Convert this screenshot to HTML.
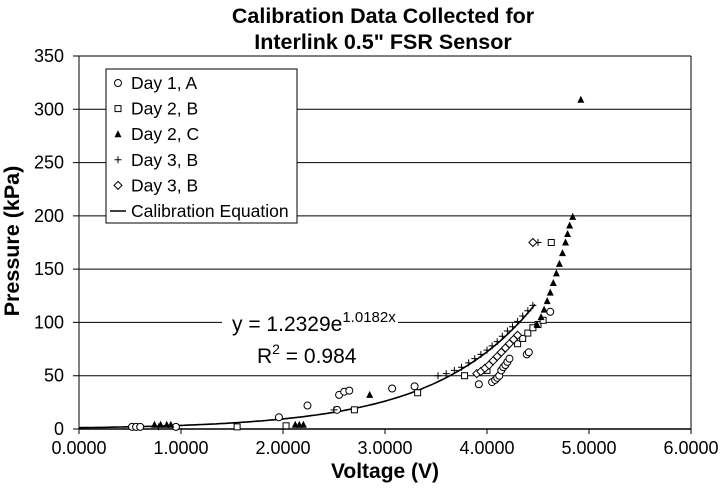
<!DOCTYPE html>
<html><head><meta charset="utf-8"><style>
body{margin:0;background:#fff;}
svg{display:block;font-family:"Liberation Sans",Arial,sans-serif;}
</style></head><body>
<svg id="chart" width="720" height="488" viewBox="0 0 720 488">
<text x="383" y="23" text-anchor="middle" font-size="21.5" font-weight="bold">Calibration Data Collected for</text>
<text x="383" y="49" text-anchor="middle" font-size="21.5" font-weight="bold">Interlink 0.5" FSR Sensor</text>
<text transform="translate(19,241) rotate(-90)" text-anchor="middle" font-size="21.5" font-weight="bold">Pressure (kPa)</text>
<text x="385" y="478" text-anchor="middle" font-size="21" font-weight="bold">Voltage (V)</text>
<g id="grid"></g>
<g id="axes"></g>
<g id="curve"></g>
<g id="marks"></g>
<g>
<rect x="222" y="308" width="176" height="62" fill="#fff"/>
<text x="232" y="331" font-size="21">y = 1.2329e<tspan dy="-9" font-size="15">1.0182x</tspan></text>
<text x="257" y="363" font-size="21">R<tspan dy="-9" font-size="14">2</tspan><tspan dy="9"> = 0.984</tspan></text>
</g>
<g id="legend"></g>
</svg>
<script>
const xTicks=[0,1,2,3,4,5,6];
const yTicks=[0,50,100,150,200,250,300,350];
const coefA=[1.2329];
const coefB=[1.0182];
const curveRange=[0,4.47];
const day1A=[[0.52,2],[0.56,2],[0.60,2],[0.95,2],[1.96,11],[2.24,22],[2.53,18],[2.55,32],[2.60,35],[2.65,36],[3.07,38],[3.29,40],[3.92,42],[4.05,44],[4.08,46],[4.10,48],[4.12,50],[4.14,55],[4.16,58],[4.18,60],[4.20,63],[4.22,66],[4.39,70],[4.41,72],[4.62,110]];
const day2B=[[1.55,2],[2.03,3],[2.70,18],[3.32,34],[3.78,50],[4.00,55],[4.30,80],[4.35,85],[4.40,90],[4.45,95],[4.50,98],[4.55,102],[4.63,175]];
const day2C=[[0.74,4],[0.80,4],[0.86,4],[0.90,4],[2.12,4],[2.16,4],[2.20,4],[2.85,32],[4.49,98],[4.53,105],[4.56,112],[4.59,120],[4.62,128],[4.65,137],[4.68,146],[4.71,155],[4.74,165],[4.77,175],[4.79,183],[4.81,191],[4.84,199],[4.92,309]];
const day3Bplus=[[0.78,2],[2.50,18],[3.52,50],[3.60,52],[3.68,55],[3.75,58],[3.82,62],[3.88,66],[3.94,70],[4.00,74],[4.05,78],[4.10,82],[4.15,87],[4.20,92],[4.25,96],[4.30,101],[4.35,106],[4.40,111],[4.45,116],[4.50,175]];
const day3Bdiamond=[[3.90,52],[3.94,54],[3.98,57],[4.02,60],[4.06,64],[4.10,68],[4.14,72],[4.18,76],[4.22,80],[4.26,84],[4.30,88],[4.45,175]];
const legendLabels=["Day 1, A","Day 2, B","Day 2, C","Day 3, B","Day 3, B","Calibration Equation"];

const X0=79,X1=691,Y0=429,Y1=56;
const sx=v=>X0+(v-0)/(6-0)*(X1-X0);
const sy=v=>Y0-(v-0)/(350-0)*(Y0-Y1);
const NS="http://www.w3.org/2000/svg";
function mk(tag,attrs,parent){const e=document.createElementNS(NS,tag);for(const k in attrs)e.setAttribute(k,attrs[k]);parent.appendChild(e);return e;}
const grid=document.getElementById('grid'),axes=document.getElementById('axes');
yTicks.forEach(t=>{
  const l=mk('line',{x1:X0-6,x2:X1,y1:sy(t),y2:sy(t),stroke:'#000','stroke-width':1},grid);
  
  
  const tx=mk('text',{x:64,y:sy(t)+6,'text-anchor':'end','font-size':18},axes);
  tx.textContent=t;
  
  
});
const la=mk('line',{x1:X0,x2:X0,y1:Y1,y2:Y0,stroke:'#000'},axes);


const ra=mk('line',{x1:X1,x2:X1,y1:Y1,y2:Y0,stroke:'#000'},axes);


const xa=mk('line',{x1:X0,x2:X1,y1:Y0,y2:Y0,stroke:'#000','stroke-width':1.5},axes);


xTicks.forEach(t=>{
  const tk=mk('line',{x1:sx(t),x2:sx(t),y1:Y0,y2:Y0+5,stroke:'#000'},axes);
  
  
  const tx=mk('text',{x:sx(t),y:Y0+25,'text-anchor':'middle','font-size':18},axes);
  tx.textContent=t.toFixed(4);
  
  
});
let d='';
for(let i=0;i<=100;i++){const v=curveRange[0]+(curveRange[1]-curveRange[0])*i/100;const p=coefA[0]*Math.exp(coefB[0]*v);d+=(i?'L':'M')+sx(v).toFixed(1)+','+sy(p).toFixed(1);}
const cp=mk('path',{d:d,fill:'none',stroke:'#000','stroke-width':1.6},document.getElementById('curve'));


function marker(type,x,y,g){
  let e;
  if(type==='circle')e=mk('circle',{cx:x,cy:y,r:3.5,fill:'#fff',stroke:'#000','stroke-width':1},g);
  else if(type==='square')e=mk('rect',{x:x-3,y:y-3,width:6,height:6,fill:'#fff',stroke:'#000','stroke-width':1},g);
  else if(type==='triangle')e=mk('path',{d:`M${x},${y-4}L${x+3.5},${y+3}L${x-3.5},${y+3}Z`,fill:'#000'},g);
  else if(type==='plus')e=mk('path',{d:`M${x-3.5},${y}H${x+3.5}M${x},${y-3.5}V${y+3.5}`,stroke:'#000','stroke-width':1},g);
  else if(type==='diamond')e=mk('path',{d:`M${x},${y-4}L${x+4},${y}L${x},${y+4}L${x-4},${y}Z`,fill:'#fff',stroke:'#000','stroke-width':1},g);
  else e=mk('line',{x1:x-8,x2:x+8,y1:y,y2:y,stroke:'#000','stroke-width':1.5},g);
  return e;
}
const marks=document.getElementById('marks');
const series=[['circle',day1A,'day1-a'],['square',day2B,'day2-b'],['triangle',day2C,'day2-c'],['plus',day3Bplus,'day3-b-plus'],['diamond',day3Bdiamond,'day3-b-diamond']];
series.forEach(([type,arr,name])=>{
  const g=mk('g',{},marks);
  
  
  arr.forEach(([v,p])=>{
    const e=marker(type,sx(v),sy(p),g);
    
    
  });
});
const lg=document.getElementById('legend');
const lr=mk('rect',{x:106,y:69,width:191,height:154,fill:'#fff',stroke:'#000','stroke-width':1},lg);


const ltypes=['circle','square','triangle','plus','diamond','line'];
legendLabels.forEach((lab,i)=>{
  const y=83+i*25.6;
  const m=marker(ltypes[i],118,y,lg);
  
  
  const t=mk('text',{x:131,y:y+6,'font-size':17.5},lg);
  t.textContent=lab;
  
  
});
</script>
</body></html>
